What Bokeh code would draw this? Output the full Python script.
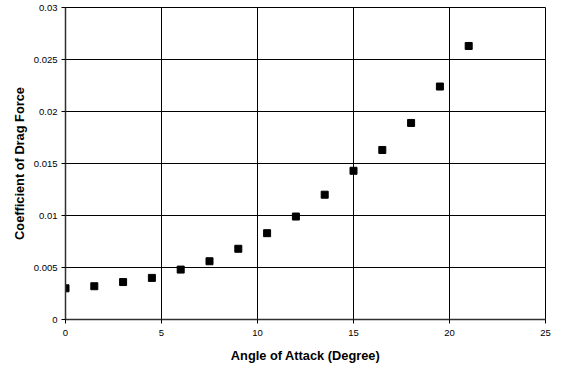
from bokeh.plotting import figure
from bokeh.models import FixedTicker, CustomJSTickFormatter, Range1d
from bokeh.embed import file_html
from bokeh.resources import INLINE

angle = [0, 1.5, 3, 4.5, 6, 7.5, 9, 10.5, 12, 13.5, 15, 16.5, 18, 19.5, 21]
cd = [0.0030, 0.0032, 0.0036, 0.0040, 0.0048, 0.0056, 0.0068, 0.0083,
      0.0099, 0.0120, 0.0143, 0.0163, 0.0189, 0.0224, 0.0263]
x_ticks = [0, 5, 10, 15, 20, 25]
y_ticks = [0, 0.005, 0.01, 0.015, 0.02, 0.025, 0.03]

p = figure(width=561, height=368, output_backend="svg", toolbar_location=None,
           x_range=Range1d(0, 25), y_range=Range1d(0, 0.03),
           min_border_left=65, min_border_right=16, min_border_top=7, min_border_bottom=49)
p.background_fill_color = "white"
p.border_fill_color = "white"
p.outline_line_color = "black"
p.outline_line_width = 1

p.scatter(angle, cd, marker="square", size=7, fill_color="black", line_color="black")

p.xaxis.ticker = FixedTicker(ticks=x_ticks)
p.yaxis.ticker = FixedTicker(ticks=y_ticks)
p.yaxis.formatter = CustomJSTickFormatter(code="return Number(tick.toFixed(4)).toString();")
for ax in (p.xaxis[0], p.yaxis[0]):
    ax.axis_line_color = "#303030"
    ax.axis_line_width = 1.5
    ax.major_tick_line_color = "black"
    ax.major_tick_in = 0
    ax.major_tick_out = 4
    ax.minor_tick_line_color = None
    ax.major_label_text_font = "Liberation Sans"
    ax.major_label_text_font_size = "9.5px"
    ax.major_label_text_color = "black"
    ax.axis_label_text_font = "Liberation Sans"
    ax.axis_label_text_font_size = "12.8px"
    ax.axis_label_text_font_style = "bold"
    ax.axis_label_text_color = "black"
p.xaxis.axis_label = "Angle of Attack (Degree)"
p.yaxis.axis_label = "Coefficient of Drag Force"
p.xaxis.major_label_standoff = 6
p.yaxis.major_label_standoff = 4
p.xaxis.axis_label_standoff = 9
p.yaxis.axis_label_standoff = 4

p.xgrid.ticker = FixedTicker(ticks=x_ticks)
p.ygrid.ticker = FixedTicker(ticks=y_ticks)
for g in (p.xgrid[0], p.ygrid[0]):
    g.grid_line_color = "black"
    g.grid_line_alpha = 1
    g.grid_line_width = 1

open("out.html", "w").write(file_html(p, INLINE))
